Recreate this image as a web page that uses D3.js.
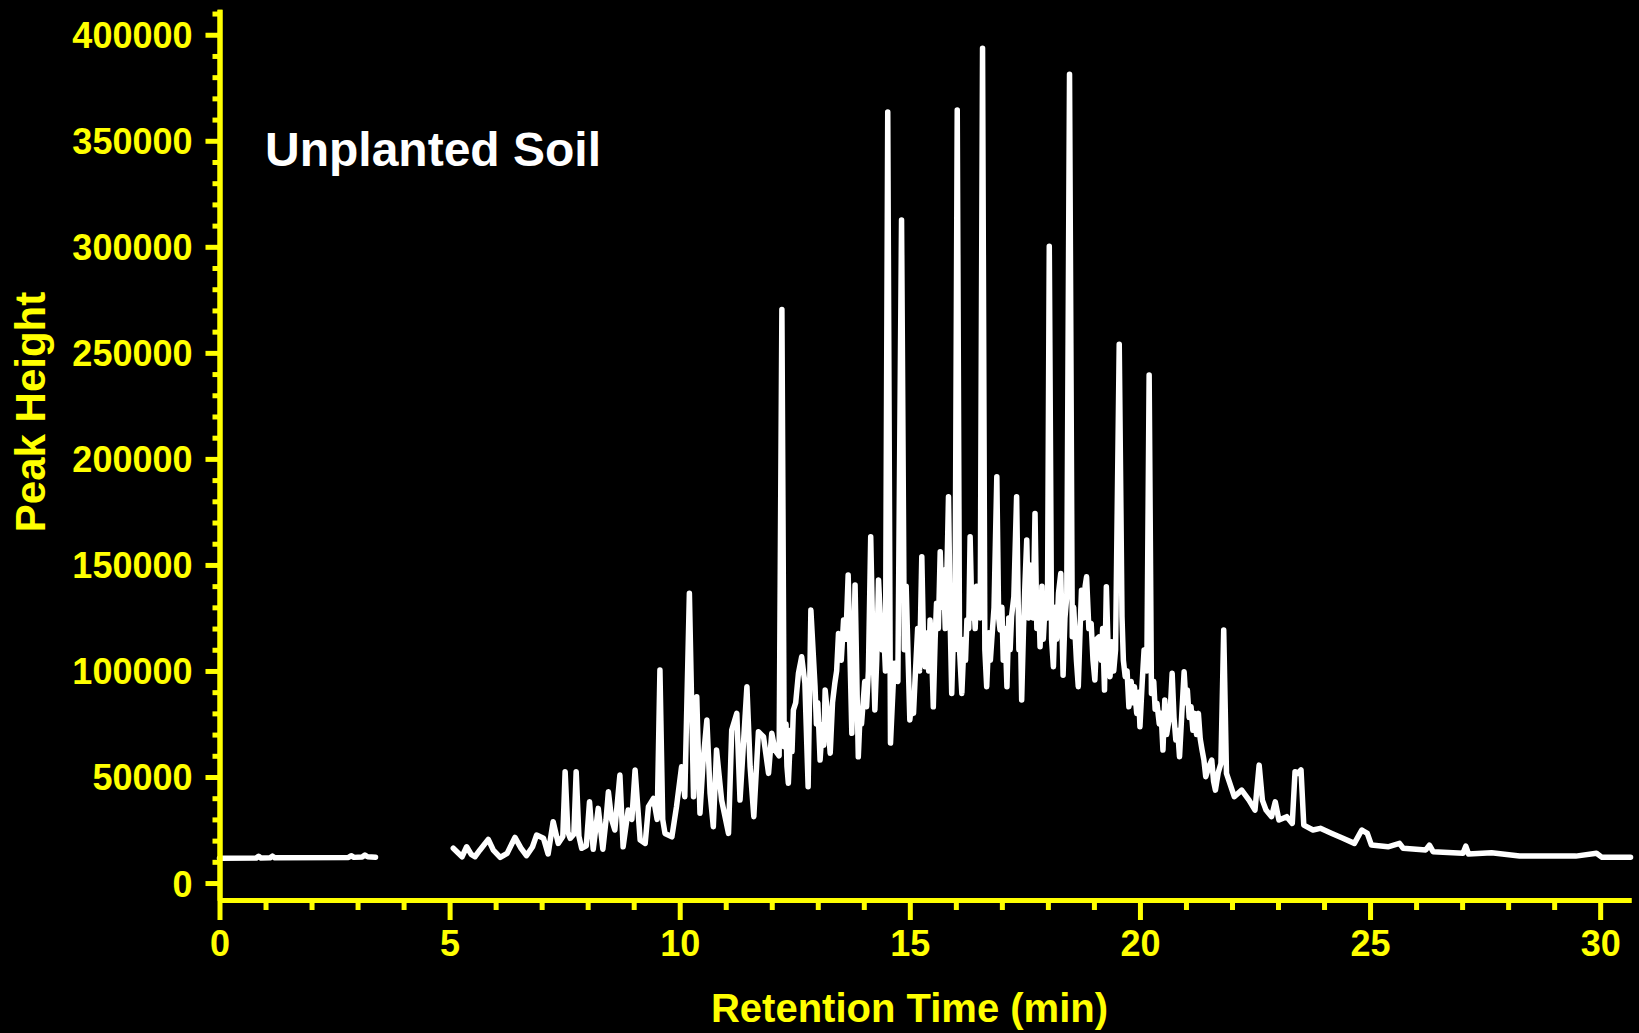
<!DOCTYPE html>
<html>
<head>
<meta charset="utf-8">
<script src="https://cdn.jsdelivr.net/npm/d3@7"></script>
<style>
  html, body { margin: 0; padding: 0; background: #000; }
  text { font-family: "Liberation Sans", Arial, sans-serif; font-weight: bold; }
</style>
</head>
<body>
<div id="chart"></div>
<script>

// retention time (min) / peak height. null = gap (no data)
let retentionTime = [
  0,0.80,0.85,0.90,1.10,1.15,1.20,2.80,
  2.86,2.92,3.10,3.16,3.22,3.39,4.20,5.08,
  5.27,5.37,5.47,5.55,5.66,5.84,5.95,6.10,
  6.25,6.42,6.55,6.67,6.80,6.89,7.04,7.14,
  7.25,7.36,7.46,7.51,7.57,7.62,7.70,7.75,
  7.81,7.87,7.97,8.04,8.12,8.23,8.33,8.40,
  8.45,8.52,8.59,8.70,8.77,8.88,8.96,9.03,
  9.14,9.25,9.32,9.43,9.51,9.57,9.63,9.68,
  9.83,9.93,10.04,10.11,10.21,10.30,10.37,10.44,
  10.51,10.59,10.66,10.73,10.80,10.91,11.06,11.13,
  11.24,11.31,11.46,11.53,11.61,11.71,11.82,11.93,
  12.00,12.07,12.16,12.22,12.27,12.31,12.33,12.36,
  12.41,12.44,12.47,12.52,12.58,12.65,12.72,12.79,
  12.85,12.94,12.97,13.00,13.05,13.10,13.13,13.16,
  13.21,13.24,13.27,13.32,13.37,13.41,13.45,13.51,
  13.56,13.61,13.66,13.74,13.81,13.88,13.92,13.95,
  13.99,14.02,14.06,14.10,14.15,14.20,14.24,14.28,
  14.32,14.36,14.40,14.44,14.47,14.52,14.58,
  14.66,14.74,14.82,14.88,14.92,
  15.00,15.05,15.08,15.11,15.17,15.21,15.26,15.30,
  15.33,15.38,15.41,15.44,15.48,15.51,15.55,15.58,
  15.62,15.66,15.70,15.73,15.77,15.80,15.84,15.88,
  15.91,15.95,15.98,16.03,16.08,16.13,16.18,16.21,
  16.24,16.28,16.31,16.35,16.38,16.42,16.45,16.49,
  16.53,16.58,16.63,16.67,16.72,16.75,16.78,16.83,
  16.89,16.93,16.96,17.00,17.03,17.07,17.11,17.15,
  17.18,17.21,17.26,17.32,17.37,17.40,17.43,17.47,
  17.50,17.54,17.58,17.61,17.65,17.68,17.72,17.76,
  17.80,17.83,17.87,17.90,17.94,17.99,18.03,18.08,
  18.12,18.16,18.19,18.23,18.28,18.33,18.37,18.41,
  18.47,18.53,18.56,18.59,18.62,18.66,18.70,18.73,
  18.78,18.81,18.84,18.89,18.94,18.98,19.02,19.06,
  19.11,19.16,19.19,19.23,19.27,19.31,19.35,19.39,
  19.43,19.47,19.55,19.61,19.64,19.68,19.72,19.76,
  19.81,19.84,19.88,19.93,19.97,20.00,20.05,20.09,
  20.15,20.20,20.25,20.30,20.33,20.37,20.42,20.46,
  20.50,20.54,20.58,20.62,20.66,20.70,20.74,20.78,
  20.82,20.86,20.91,20.96,21.00,21.03,21.07,21.11,
  21.15,21.19,21.23,21.27,21.31,21.35,21.39,21.43,
  21.50,21.56,21.60,21.64,21.70,21.76,21.82,21.88,
  22.05,22.21,22.37,22.50,22.59,22.66,22.74,22.86,
  22.94,23.02,23.19,23.31,23.37,23.43,23.50,23.56,
  23.76,23.92,24.17,24.41,24.66,24.82,24.94,25.03,
  25.39,25.64,25.72,26.21,26.29,26.37,27.02,27.08,
  27.14,27.64,28.25,29.47,29.92,30.04,30.66];

let peakHeight = [
  11700,11800,12600,11800,11900,12700,11900,12000,
  12900,12100,12300,13200,12400,12200,null,16400,
  12400,17100,13500,12400,15600,20600,15500,12100,
  14000,21500,16500,12900,17000,22600,21100,13700,
  28900,18700,22000,52500,24000,21100,23000,52500,
  22000,16400,17500,38300,15900,35200,15900,30000,
  43000,30000,25000,50900,17100,34400,30000,53300,
  20300,18700,36000,39900,30000,100400,30000,23400,
  21800,36000,54800,40700,136600,40700,87800,32900,
  58000,76900,42300,26500,62700,39100,23400,72100,
  80000,39100,92600,54800,31300,71300,69000,51700,
  70600,62700,60000,270400,64300,75000,55000,47000,
  72000,62000,81600,85000,98900,106700,94200,45400,
  128700,92600,75000,85000,58000,75000,65000,91000,
  80000,70000,61200,85000,94200,100000,117700,105000,
  124000,115000,145200,70600,140500,59500,80000,75000,
  86300,95000,83100,100000,163300,110000,81600,105000,
  142900,125000,110000,115000,100000,363600,66000,
  103600,95000,312600,110000,140000,
  76900,88000,80000,94200,120000,100000,153900,110000,
  102000,118000,100000,124000,105000,83100,115000,131900,
  120000,156200,130000,147600,120000,140000,182100,120000,
  89400,120000,110000,364500,110000,89400,115000,105000,
  124000,120000,163300,125000,136600,120000,140000,136600,
  125000,393600,110000,92600,118000,105000,114600,130000,
  191600,125000,119300,130000,105100,120000,92600,125000,
  110000,125600,135000,182100,110000,125000,86300,120000,
  140000,161700,125000,150000,146000,125000,174300,120000,
  135000,111400,140000,115000,131900,125000,300300,115000,
  102000,130000,115000,136600,146000,98000,125000,135000,
  381400,116100,130000,117700,105000,92600,120000,138100,
  125000,140000,144400,120000,122400,105000,95700,115000,
  116100,105000,120000,91000,139700,110000,97300,113800,
  100000,110000,254000,125600,105000,97300,100000,83100,
  95000,85000,92600,80000,90000,73700,95000,109900,
  100000,239500,89400,95000,82000,84700,75000,80000,
  62700,86300,70000,75300,82000,98900,78000,67400,
  72000,59500,80000,99600,85000,91000,78000,83100,
  72000,80000,70000,80000,68000,62700,58000,50100,
  55000,58000,48000,43800,52000,56400,119300,51700,
  40700,43800,39100,34400,55600,39100,34400,31300,
  38300,29700,31300,28100,52500,51700,53300,27300,
  25000,25800,23400,21100,18700,25000,23400,17900,
  17100,18700,16400,15600,17900,14800,14000,17400,
  13700,14300,12700,12700,14000,12100,12100];

let xMajorTicks = [0,5,10,15,20,25,30];
let xMinorTicks = d3.range(1,31).filter(d => d % 5 != 0);
let yMajorTicks = [0,50000,100000,150000,200000,250000,300000,350000,400000];
let yMinorTicks = d3.range(10000,420000,10000).filter(d => d % 50000 != 0);

let width = 1639;
let height = 1033;
let yellow = '#ffff00';

let svg = d3.select('#chart').append('svg')
    .attr('width', width)
    .attr('height', height)
    .style('background', '#000');

//-----scales-------
let x = d3.scaleLinear().domain([0, 30.67]).range([219.5, 1631]);
let y = d3.scaleLinear().domain([-8000, 412000]).range([900, 9.3]);

//-----trace-------
let points = retentionTime.map((t, i) => ({t: t, v: peakHeight[i]}));

let line = d3.line()
    .defined(d => d.v != null)
    .x(d => x(d.t))
    .y(d => y(d.v));

svg.append('path')
    .datum(points)
    .attr('d', line)
    .attr('fill', 'none')
    .attr('stroke', '#fff')
    .attr('stroke-width', 5.5)
    .attr('stroke-linejoin', 'round')
    .attr('stroke-linecap', 'round');

//-----X axis-------
svg.append('g').attr('class', 'axis x minor')
    .attr('transform', 'translate(0,900)')
    .call(d3.axisBottom(x).tickValues(xMinorTicks).tickSize(10).tickSizeOuter(0).tickFormat(''));

let xMajor = svg.append('g').attr('class', 'axis x')
    .attr('transform', 'translate(0,900)')
    .call(d3.axisBottom(x).tickValues(xMajorTicks).tickSize(20).tickSizeOuter(0).tickPadding(10));

xMajor.selectAll('text')
    .attr('y', 30)
    .attr('dy', '0.71em')
    .attr('font-size', 36);

//-----Y axis-------
svg.append('g').attr('class', 'axis y minor')
    .attr('transform', 'translate(219.5,0)')
    .call(d3.axisLeft(y).tickValues(yMinorTicks).tickSize(7).tickSizeOuter(0).tickFormat(''));

let yMajor = svg.append('g').attr('class', 'axis y')
    .attr('transform', 'translate(219.5,0)')
    .call(d3.axisLeft(y).tickValues(yMajorTicks).tickSize(14).tickSizeOuter(0).tickPadding(13).tickFormat(d3.format('d')));

yMajor.selectAll('text')
    .attr('font-size', 36)
    .attr('dy', '0.36em');

svg.selectAll('.axis path.domain').attr('stroke', yellow).attr('stroke-width', 5);
svg.selectAll('.axis line').attr('stroke', yellow).attr('stroke-width', 5);
svg.selectAll('.axis text').attr('fill', yellow).attr('font-family', '"Liberation Sans", Arial, sans-serif').attr('font-weight', 'bold');

//-----titles-------
svg.append('text')
    .attr('x', 909.5)
    .attr('y', 1022)
    .attr('text-anchor', 'middle')
    .attr('font-size', 40)
    .attr('fill', yellow)
    .text('Retention Time (min)');

svg.append('text')
    .attr('transform', 'translate(45,412) rotate(-90)')
    .attr('text-anchor', 'middle')
    .attr('font-size', 42)
    .attr('fill', yellow)
    .text('Peak Height');

svg.append('text')
    .attr('x', 265)
    .attr('y', 166)
    .attr('font-size', 48)
    .attr('fill', '#fff')
    .text('Unplanted Soil');

</script>
</body>
</html>
